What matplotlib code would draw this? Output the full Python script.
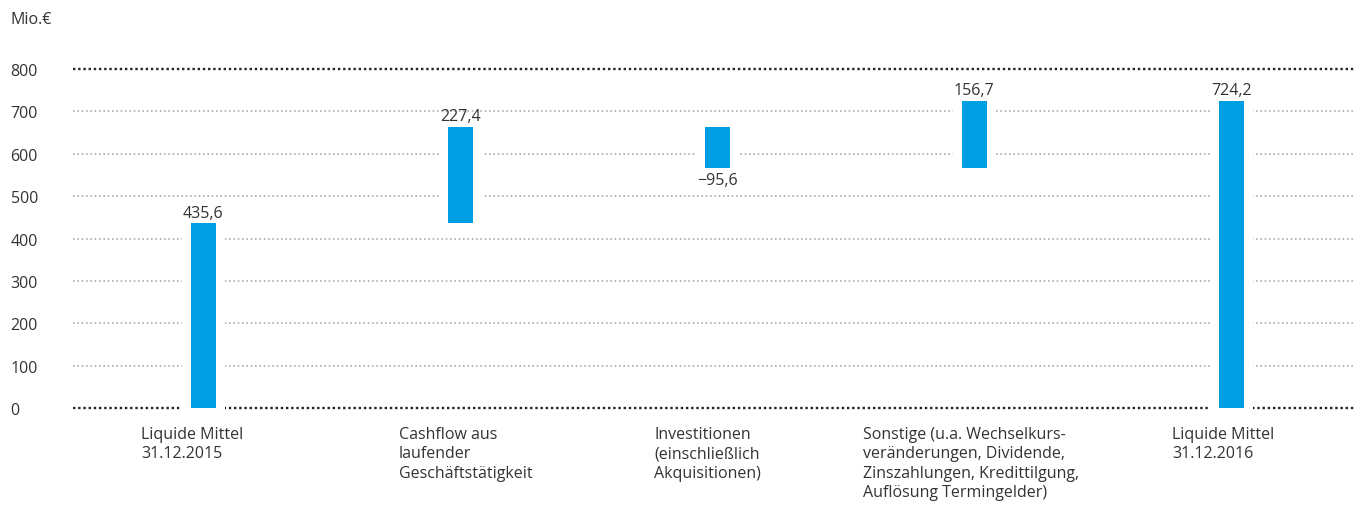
import matplotlib
matplotlib.use("Agg")
import matplotlib.pyplot as plt

categories = [
    "Liquide Mittel\n31.12.2015",
    "Cashflow aus\nlaufender\nGeschäftstätigkeit",
    "Investitionen\n(einschließlich\nAkquisitionen)",
    "Sonstige (u.a. Wechselkurs-\nveränderungen, Dividende,\nZinszahlungen, Kredittilgung,\nAuflösung Termingelder)",
    "Liquide Mittel\n31.12.2016",
]
changes = [435.6, 227.4, -95.6, 156.7, 724.2]
value_labels = ["435,6", "227,4", "−95,6", "156,7", "724,2"]
is_total = [True, False, False, False, True]
yticks = [0, 100, 200, 300, 400, 500, 600, 700, 800]

plt.rcParams['font.family'] = ['Open Sans', 'DejaVu Sans']
text_color = "#333333"
bar_color = "#009fe3"
fs = 11.5

fig = plt.figure(figsize=(13.55, 5.06), dpi=100)
ax = fig.add_axes([73/1355, 1 - 409/506, 1282/1355, (409-70)/506])

ax.set_xlim(-0.506, 4.482)
ax.set_ylim(0, 800)

# waterfall bottoms/heights
bottoms, heights = [], []
running = 0.0
for c, tot in zip(changes, is_total):
    if tot:
        bottoms.append(0.0)
        heights.append(c)
        running = c
    else:
        if c >= 0:
            bottoms.append(running)
            heights.append(c)
        else:
            bottoms.append(running + c)
            heights.append(-c)
        running += c

# gridlines
for t in yticks:
    if t in (0, 800):
        ax.axhline(t, color="#222222", linestyle=(0, (1, 1.2)), linewidth=1.7, zorder=1, clip_on=False)
    else:
        ax.axhline(t, color="#aaaaaa", linestyle=(0, (1, 1.6)), linewidth=1.2, zorder=1)

xs = list(range(len(categories)))
w = 0.097
gap = 0.035
ax.bar(xs, [h + 12 for h in heights], bottom=[b - 6 for b in bottoms], width=w + 2 * gap,
       color="white", zorder=2, clip_on=False)
ax.bar(xs, heights, bottom=bottoms, width=w, color=bar_color, zorder=3)

for x, b, h, c, lab in zip(xs, bottoms, heights, changes, value_labels):
    if c >= 0:
        ax.annotate(lab, (x, b + h), xytext=(0, 2), textcoords="offset points",
                    ha="center", va="bottom", fontsize=fs, color=text_color)
    else:
        ax.annotate(lab, (x, b), xytext=(0, -3), textcoords="offset points",
                    ha="center", va="top", fontsize=fs, color=text_color)

label_offsets = [-62, -61, -63, -111, -59]
for x, cat, off in zip(xs, categories, label_offsets):
    ax.annotate(cat, (x, 0), xytext=(off * 0.72, -13), textcoords="offset points",
                ha="left", va="top", fontsize=fs, color=text_color, linespacing=1.27,
                annotation_clip=False)

ax.set_yticks(yticks)
ax.set_yticklabels([str(t) for t in yticks], fontsize=fs, color=text_color)
for lbl in ax.get_yticklabels():
    lbl.set_horizontalalignment("left")
ax.tick_params(axis="y", length=0, pad=45)
ax.set_xticks([])
for s in ax.spines.values():
    s.set_visible(False)

fig.text(10/1355, 1 - 20/506, "Mio.€", fontsize=fs, color=text_color, ha="left", va="center")

fig.savefig("out.png", dpi=100)
